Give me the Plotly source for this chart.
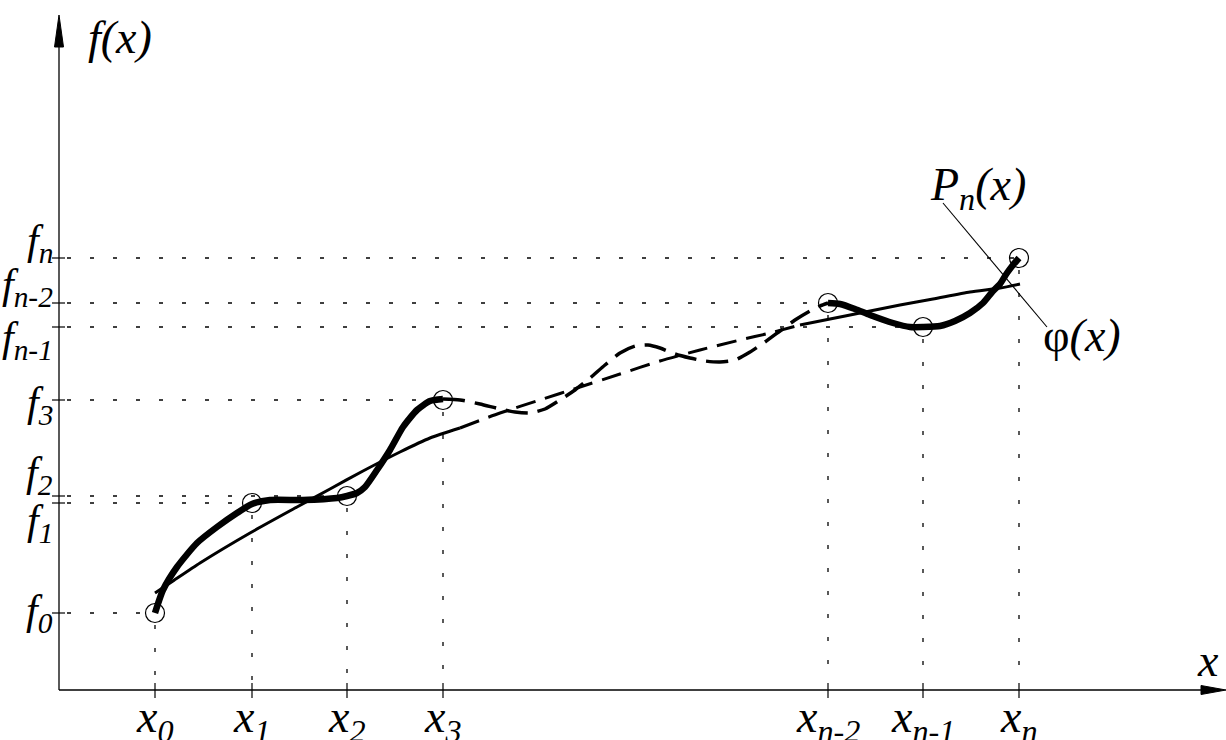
import plotly.graph_objects as go

# ---------------- data (chart units: origin at the axes crossing) ----------------
node_x = [96, 193, 288, 384, 769, 864, 960]
node_f = [77, 187, 194, 290, 387, 363, 432]
x_tick_labels = ["0", "1", "2", "3", "n-2", "n-1", "n"]
f_tick_labels = ["0", "1", "2", "3", "n-2", "n-1", "n"]

# phi(x): thick curve (solid - dashed - solid)
phi1_x = [96, 104, 118, 138, 158, 178, 193, 211, 244, 278, 288, 298, 306, 318, 331, 344, 358, 371, 384]
phi1_y = [77, 100, 123, 147, 163, 177, 186, 190, 190, 192, 194, 197, 203, 220, 240, 263, 280, 289, 291]
phi2_x = [384, 401, 421, 441, 456, 471, 486, 501, 516, 531, 546, 561, 576, 589, 601, 616, 631, 646, 661, 676, 691, 706, 721, 736, 751, 761, 769]
phi2_y = [291, 290, 286, 281, 278, 277, 281, 290, 300, 312, 325, 337, 344, 345, 342, 336, 332, 329, 328, 330, 338, 348, 359, 370, 379, 384, 387]
phi3_x = [769, 781, 796, 811, 834, 851, 864, 881, 896, 911, 924, 934, 941, 948, 954, 960]
phi3_y = [387, 386, 381, 375, 367, 363, 363, 364, 369, 377, 387, 399, 406, 417, 425, 432]

# P_n(x): thinner curve (solid - dashed - solid)
pn1_x = [96, 114, 141, 191, 238, 271, 304, 341, 371, 401]
pn1_y = [97, 109, 127, 157, 183, 201, 219, 238, 252, 262]
pn2_x = [401, 441, 481, 521, 561, 601, 641, 681, 711, 741]
pn2_y = [262, 277, 290, 303, 316, 329, 340, 350, 357, 365]
pn3_x = [741, 771, 801, 841, 874, 911, 941, 961]
pn3_y = [365, 371, 377, 385, 391, 398, 402, 406]

# ---------------- layout constants ----------------
XR = [-59, 1167]
YR = [-50, 690]
Y_TIP = 675
FONT = "Liberation Serif"
BLACK = "#000000"

fig = go.Figure()


def add_line(xs, ys, width, dash="solid"):
    fig.add_trace(go.Scatter(
        x=xs, y=ys, mode="lines",
        line=dict(color=BLACK, width=width, dash=dash, shape="spline", smoothing=0.6),
        hoverinfo="skip", showlegend=False))


add_line(pn1_x, pn1_y, 3)
add_line(pn2_x, pn2_y, 3, "20px,10px")
add_line(pn3_x, pn3_y, 3)
add_line(phi1_x, phi1_y, 6.5)
add_line(phi2_x, phi2_y, 3.5, "22px,10px")
add_line(phi3_x, phi3_y, 6.5)

fig.add_trace(go.Scatter(
    x=node_x, y=node_f, mode="markers",
    marker=dict(symbol="circle-open", size=19, color=BLACK, line=dict(width=1.2, color=BLACK)),
    hoverinfo="skip", showlegend=False))

shapes = []
dot = dict(color=BLACK, width=1.3, dash="4px,19px")
for xv, fv in zip(node_x, node_f):
    shapes.append(dict(type="line", x0=8, x1=xv, y0=fv, y1=fv, line=dot, layer="below"))
    shapes.append(dict(type="line", x0=xv, x1=xv, y0=fv - 12, y1=8, line=dot, layer="below"))
    shapes.append(dict(type="line", x0=-7, x1=6, y0=fv, y1=fv, line=dict(color=BLACK, width=1.2)))
    shapes.append(dict(type="line", x0=xv, x1=xv, y0=-8, y1=7, line=dict(color=BLACK, width=1.2)))

shapes.append(dict(type="line", x0=0, x1=0, y0=0, y1=Y_TIP - 20, line=dict(color=BLACK, width=1.3)))
shapes.append(dict(type="line", x0=0, x1=XR[1] - 15, y0=0, y1=0, line=dict(color=BLACK, width=1.3)))
shapes.append(dict(type="path",
                   path=f"M 0 {Y_TIP} L -4.5 {Y_TIP-32} L 4.5 {Y_TIP-32} Z",
                   fillcolor=BLACK, line=dict(color=BLACK, width=1)))
shapes.append(dict(type="path",
                   path=f"M {XR[1]} 0 L {XR[1]-25} 4.5 L {XR[1]-25} -4.5 Z",
                   fillcolor=BLACK, line=dict(color=BLACK, width=1)))
shapes.append(dict(type="line", x0=884, y0=487, x1=988, y1=363, line=dict(color=BLACK, width=1.1)))


def fnt(size=46):
    return dict(family=FONT, size=size, color=BLACK)


ann = []
ann.append(dict(x=61, y=653, text="<i>f(x)</i>", showarrow=False, font=fnt()))
ann.append(dict(x=1149, y=30, text="<i>x</i>", showarrow=False, font=fnt()))
ann.append(dict(x=919, y=502, text="<i>P</i><sub><i>n</i></sub><i>(x)</i>", showarrow=False, font=fnt()))
ann.append(dict(x=1023, y=355, text="φ<i>(x)</i>", showarrow=False, font=fnt()))
for xv, lab in zip(node_x, x_tick_labels):
    ann.append(dict(x=xv, y=-30, text=f"<i>x</i><sub><i>{lab}</i></sub>", showarrow=False, font=fnt()))
f_shift = [0, -20, 21, -5, 16, -13, 15]
for fv, lab, sh in zip(node_f, f_tick_labels, f_shift):
    ann.append(dict(x=-4, y=fv, yshift=sh, xanchor="right", text=f"<i>f</i><sub><i>{lab}</i></sub>",
                    showarrow=False, font=fnt(42)))

fig.update_layout(
    width=1226, height=740,
    margin=dict(l=0, r=0, t=0, b=0),
    paper_bgcolor="white", plot_bgcolor="white",
    xaxis=dict(range=XR, visible=False, fixedrange=True),
    yaxis=dict(range=YR, visible=False, fixedrange=True),
    shapes=shapes, annotations=ann,
)

post = (
    "document.body.style.margin='0';"
    "document.body.style.overflow='hidden';"
)
fig.write_html("out.html", config={"displayModeBar": False}, post_script=post)
